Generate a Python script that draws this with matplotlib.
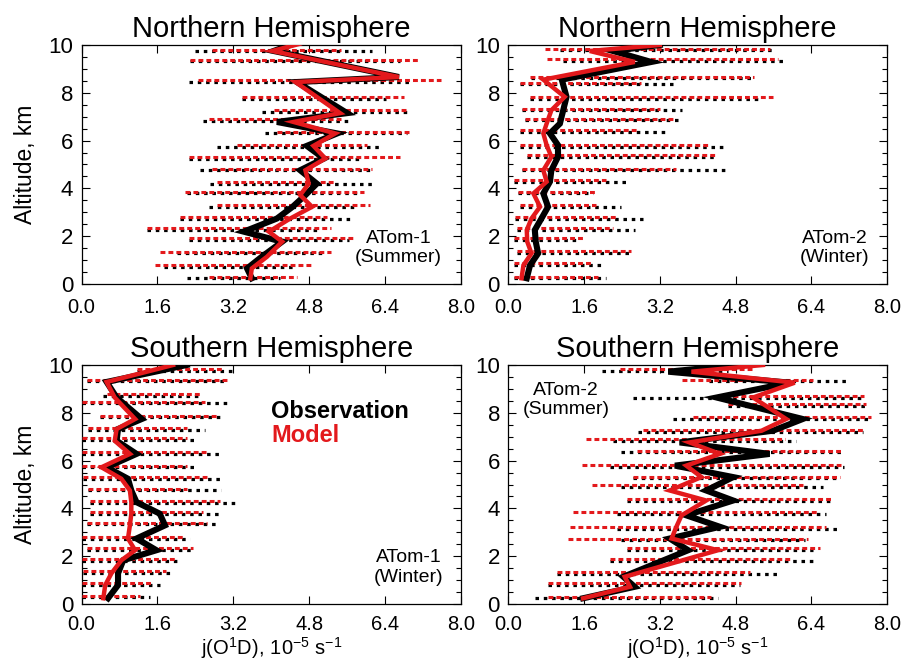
import matplotlib
matplotlib.use("Agg")
import matplotlib.pyplot as plt
from matplotlib.ticker import MultipleLocator, FormatStrFormatter

plt.rcParams['font.family'] = ['Liberation Sans', 'DejaVu Sans']
plt.rcParams['mathtext.fontset'] = 'custom'
plt.rcParams['mathtext.rm'] = 'Liberation Sans'
plt.rcParams['mathtext.it'] = 'Liberation Sans:italic'

RED = '#e3191c'

# ---------------- Panel 1: Northern Hemisphere, ATom-1 (Summer) ----------------
p1_line_alt = [0.24, 0.65, 1.14, 1.77, 2.19, 2.74, 3.23, 3.72, 4.2, 4.76, 5.25, 5.78, 6.3, 6.78, 7.15, 8.45, 8.66, 9.75, 10.05]
p1_obs = [3.59, 3.49, 3.8, 4.23, 3.42, 4.12, 4.45, 4.72, 4.96, 4.61, 5.11, 4.75, 5.39, 4.12, 5.6, 4.54, 6.69, 4.05, 4.47]
p1_mod = [3.56, 3.59, 3.91, 4.23, 3.95, 4.4, 4.86, 4.61, 4.79, 4.72, 5.14, 4.89, 5.35, 4.47, 5.45, 4.51, 6.69, 4.02, 4.6]
p1_rng_alt = [0.24, 0.72, 1.28, 1.84, 2.26, 2.74, 3.23, 3.79, 4.2, 4.76, 5.25, 5.74, 6.3, 6.82, 7.2, 7.76, 8.45, 9.32, 9.74]
p1_obs_lo = [2.22, 1.73, 2.01, 2.26, 1.38, 2.08, 2.68, 2.22, 2.71, 2.50, 2.26, 2.86, 3.87, 2.57, 3.80, 3.38, 2.26, 2.29, 2.40]
p1_obs_hi = [4.19, 4.51, 5.14, 5.63, 5.00, 5.70, 5.77, 5.84, 6.13, 6.13, 5.88, 6.27, 6.86, 5.67, 6.90, 6.41, 6.90, 6.72, 6.13]
p1_mod_lo = [2.68, 1.55, 1.66, 2.26, 1.38, 2.08, 2.86, 2.19, 2.86, 2.75, 2.26, 3.28, 4.12, 2.68, 4.05, 3.38, 2.45, 2.29, 2.75]
p1_mod_hi = [4.54, 4.89, 5.25, 5.77, 5.25, 5.18, 6.09, 5.95, 5.32, 6.13, 6.72, 6.02, 6.90, 5.46, 6.90, 6.79, 7.57, 7.11, 5.46]

# ---------------- Panel 2: Northern Hemisphere, ATom-2 (Winter) ----------------
p2_line_alt = [0.24, 0.79, 1.28, 1.77, 2.26, 2.74, 3.23, 3.79, 4.28, 4.76, 5.32, 5.81, 6.3, 6.71, 7.27, 7.83, 8.55, 9.29, 9.75, 10.0]
p2_obs = [0.39, 0.46, 0.63, 0.58, 0.56, 0.70, 0.84, 0.74, 0.88, 0.91, 1.05, 1.05, 0.88, 1.09, 1.16, 1.23, 1.13, 3.02, 2.21, 3.2]
p2_mod = [0.28, 0.32, 0.49, 0.40, 0.39, 0.49, 0.67, 0.53, 0.81, 0.74, 0.91, 0.81, 0.74, 0.81, 0.91, 1.19, 0.74, 2.67, 1.72, 3.2]
p2_rng_alt = [0.24, 0.79, 1.31, 1.84, 2.26, 2.74, 3.23, 3.79, 4.28, 4.76, 5.32, 5.74, 6.36, 6.85, 7.27, 7.76, 8.35, 8.6, 9.33, 9.78]
p2_obs_lo = [0.11, 0.11, 0.18, 0.11, 0.18, 0.14, 0.25, 0.21, 0.11, 0.28, 0.39, 0.25, 0.25, 0.35, 0.28, 0.46, 0.25, 0.49, 1.16, 1.09]
p2_obs_hi = [2.07, 2.00, 2.60, 1.51, 2.67, 2.85, 2.39, 1.79, 2.50, 4.61, 4.40, 4.57, 3.31, 3.59, 3.66, 5.31, 3.48, 5.20, 5.80, 5.59]
p2_mod_lo = [0.11, 0.11, 0.18, 0.11, 0.18, 0.14, 0.25, 0.21, 0.11, 0.28, 0.39, 0.25, 0.25, 0.35, 0.28, 0.46, 0.25, 0.46, 0.81, 0.77]
p2_mod_hi = [1.90, 1.79, 2.60, 1.58, 2.22, 2.29, 1.86, 1.83, 2.07, 3.55, 4.40, 4.25, 2.71, 3.48, 3.20, 5.59, 2.80, 5.20, 5.70, 5.52]

# ---------------- Panel 3: Southern Hemisphere, ATom-1 (Winter) ----------------
p3_line_alt = [0.24, 0.79, 1.28, 1.83, 2.25, 2.74, 3.29, 3.78, 4.26, 4.75, 5.24, 5.72, 6.28, 6.83, 7.32, 7.74, 8.64, 9.29, 10.0]
p3_obs = [0.56, 0.77, 0.77, 0.88, 1.58, 1.16, 1.76, 1.65, 1.16, 1.05, 0.98, 0.53, 1.16, 0.74, 0.77, 1.27, 0.74, 0.53, 2.22]
p3_mod = [0.46, 0.50, 0.63, 0.84, 1.13, 0.98, 1.02, 1.05, 1.05, 1.02, 0.84, 0.42, 1.02, 0.70, 0.74, 1.13, 0.70, 0.53, 1.93]
p3_rng_alt = [0.28, 0.79, 1.31, 1.81, 2.28, 2.74, 3.33, 3.78, 4.24, 4.75, 5.24, 5.72, 6.28, 6.86, 7.29, 7.81, 8.39, 8.71, 9.31, 9.75]
p3_obs_lo = [0.00, 0.00, 0.04, 0.00, 0.11, 0.00, 0.11, 0.18, 0.18, 0.14, 0.04, 0.00, 0.00, 0.00, 0.14, 0.39, 0.00, 0.46, 0.11, 1.16]
p3_obs_hi = [1.44, 1.65, 1.90, 2.07, 2.36, 2.29, 2.85, 2.95, 3.27, 2.95, 2.95, 2.46, 2.92, 2.46, 2.60, 2.95, 3.09, 2.50, 3.06, 3.20]
p3_mod_lo = [0.00, 0.00, 0.04, 0.00, 0.11, 0.00, 0.11, 0.18, 0.18, 0.14, 0.04, 0.00, 0.00, 0.00, 0.14, 0.39, 0.00, 0.53, 0.11, 1.16]
p3_mod_hi = [1.23, 1.51, 1.79, 2.00, 2.36, 2.18, 2.64, 2.57, 2.92, 2.22, 2.64, 2.22, 2.64, 2.22, 2.22, 2.85, 2.60, 2.50, 3.06, 2.99]

# ---------------- Panel 4: Southern Hemisphere, ATom-2 (Summer) ----------------
p4_line_alt = [0.24, 0.72, 1.14, 2.25, 2.74, 3.23, 3.71, 4.33, 4.75, 5.31, 5.79, 6.28, 6.76, 7.25, 7.74, 8.64, 9.26, 9.72, 10.0]
p4_obs = [1.58, 2.67, 2.43, 3.80, 3.41, 4.47, 3.76, 4.75, 4.18, 4.75, 3.52, 5.52, 3.62, 5.59, 6.22, 4.40, 5.94, 3.38, 4.82]
p4_mod = [1.58, 2.57, 2.46, 4.43, 3.45, 3.55, 3.66, 4.18, 3.41, 4.08, 3.76, 4.47, 3.83, 5.35, 5.87, 5.17, 6.05, 3.87, 5.38]
p4_rng_alt = [0.24, 0.79, 1.25, 1.81, 2.28, 2.67, 3.15, 3.78, 4.33, 4.89, 5.26, 5.75, 6.35, 6.83, 7.21, 7.74, 8.29, 8.64, 9.31, 9.75]
p4_obs_lo = [0.56, 0.84, 1.02, 2.14, 2.50, 2.39, 2.29, 2.29, 2.50, 2.39, 2.64, 2.14, 2.39, 2.22, 2.74, 3.48, 4.64, 2.64, 4.25, 1.97]
p4_obs_hi = [4.43, 4.89, 5.70, 6.50, 6.43, 6.26, 6.96, 6.72, 6.86, 6.65, 7.00, 7.10, 7.03, 6.08, 7.49, 7.67, 7.56, 7.52, 7.17, 4.64]
p4_mod_lo = [0.84, 0.84, 1.02, 2.14, 2.50, 1.27, 1.30, 1.37, 2.50, 1.76, 2.64, 1.55, 2.71, 1.65, 2.85, 3.90, 4.64, 4.75, 3.66, 2.36]
p4_mod_hi = [4.29, 4.92, 5.10, 5.98, 6.58, 6.33, 6.72, 6.54, 6.86, 6.22, 7.00, 7.03, 7.07, 5.84, 7.52, 7.67, 7.56, 7.52, 6.43, 5.20]

titles = ['Northern Hemisphere', 'Northern Hemisphere', 'Southern Hemisphere', 'Southern Hemisphere']
campaign_labels = ['ATom-1\n(Summer)', 'ATom-2\n(Winter)', 'ATom-1\n(Winter)', 'ATom-2\n(Summer)']
campaign_pos = [(6.68, 1.5), (6.89, 1.5), (6.89, 1.53), (1.22, 8.53)]
x_ticks = [0.0, 1.6, 3.2, 4.8, 6.4, 8.0]
y_ticks = [0, 2, 4, 6, 8, 10]
legend_labels = ['Observation', 'Model']

panels = [
    (p1_line_alt, p1_obs, p1_mod, p1_rng_alt, p1_obs_lo, p1_obs_hi, p1_mod_lo, p1_mod_hi),
    (p2_line_alt, p2_obs, p2_mod, p2_rng_alt, p2_obs_lo, p2_obs_hi, p2_mod_lo, p2_mod_hi),
    (p3_line_alt, p3_obs, p3_mod, p3_rng_alt, p3_obs_lo, p3_obs_hi, p3_mod_lo, p3_mod_hi),
    (p4_line_alt, p4_obs, p4_mod, p4_rng_alt, p4_obs_lo, p4_obs_hi, p4_mod_lo, p4_mod_hi),
]

fig = plt.figure(figsize=(9.06, 6.65), dpi=100)
W, H = 906.0, 665.0
boxes = [(81.5, 45, 461, 284), (508.3, 45, 887, 284), (81.5, 365, 461, 604), (508.3, 365, 887, 604)]

for i, (box, data) in enumerate(zip(boxes, panels)):
    x0, y0, x1, y1 = box
    ax = fig.add_axes([x0 / W, 1 - y1 / H, (x1 - x0) / W, (y1 - y0) / H])
    lalt, obs, mod, ralt, olo, ohi, mlo, mhi = data
    for a, lo, hi in zip(ralt, olo, ohi):
        ax.plot([lo, hi], [a, a], color='black', lw=2.3, linestyle=(0, (1.1, 1.5)),
                solid_capstyle='butt', zorder=2)
    for a, lo, hi in zip(ralt, mlo, mhi):
        ax.plot([lo, hi], [a + 0.07, a + 0.07], color=RED, lw=2.2, linestyle=(0, (1.6, 1.0)),
                solid_capstyle='butt', zorder=3)
    ax.plot(obs, lalt, color='black', lw=4.4, zorder=4, solid_joinstyle='miter')
    ax.plot(mod, lalt, color=RED, lw=3.2, zorder=5, solid_joinstyle='miter')

    ax.set_xlim(0, 8)
    ax.set_ylim(0, 10)
    ax.set_xticks(x_ticks)
    ax.xaxis.set_major_formatter(FormatStrFormatter('%.1f'))
    ax.set_yticks(y_ticks)
    ax.yaxis.set_minor_locator(MultipleLocator(0.5))
    ax.tick_params(which='both', direction='in', top=True, right=True, width=0.8)
    ax.tick_params(which='major', length=6)
    ax.tick_params(which='minor', length=3.5)
    ax.tick_params(axis='x', labelsize=14.5, pad=(10 if i < 2 else 8))
    ax.tick_params(axis='y', labelsize=16, pad=6)
    for s in ax.spines.values():
        s.set_linewidth(0.9)
    ax.set_title(titles[i], fontsize=21, pad=6)
    if i in (0, 2):
        ax.set_ylabel('Altitude, km', fontsize=16.5, labelpad=8)
    if i in (2, 3):
        ax.set_xlabel(r'$\mathregular{j(O^1D),\,10^{-5}\ s^{-1}}$', fontsize=14.5, labelpad=1)
    cx, cy = campaign_pos[i]
    ax.text(cx, cy, campaign_labels[i], ha='center', va='center', fontsize=14,
            linespacing=1.2, zorder=6)
    if i == 2:
        ax.text(4.0, 8.07, legend_labels[0], color='black', fontsize=17, fontweight='bold',
                ha='left', va='center', zorder=6)
        ax.text(4.0, 7.07, legend_labels[1], color=RED, fontsize=17, fontweight='bold',
                ha='left', va='center', zorder=6)

fig.savefig('out.png', dpi=100)
